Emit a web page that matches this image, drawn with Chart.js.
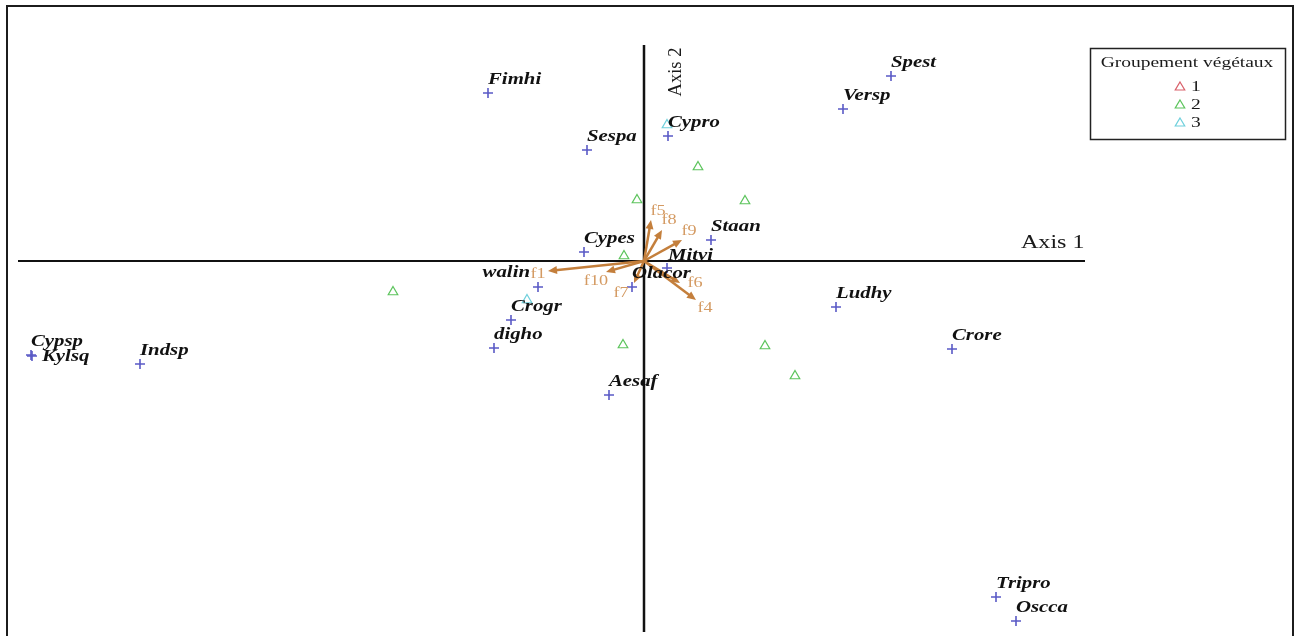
<!DOCTYPE html>
<html>
<head>
<meta charset="utf-8">
<script src="https://cdn.jsdelivr.net/npm/chart.js@4/dist/chart.umd.min.js"></script>
<style>
  html, body { margin: 0; padding: 0; background: #ffffff; }
  #wrap { width: 1295px; height: 636px; }
</style>
</head>
<body>
<div id="wrap"><canvas id="ordination" width="1295" height="636"></canvas></div>
<script>
// Species scores (blue crosses)
const speciesNames = ['Fimhi', 'Sespa', 'Cypro', 'Spest', 'Versp', 'Staan', 'Cypes', 'Mitvi', 'Olacor', 'walin',
                      'Crogr', 'digho', 'Aesaf', 'Ludhy', 'Crore', 'Cypsp', 'Kylsq', 'Indsp', 'Tripro', 'Oscca'];
const speciesX = [-1.56, -0.57, 0.24, 2.47, 1.99, 0.67, -0.60, 0.23, -0.12, -1.06,
                  -1.33, -1.50, -0.35, 1.92, 3.08, -6.13, -6.12, -5.04, 3.52, 3.72];
const speciesY = [1.68, 1.11, 1.25, 1.85, 1.52, 0.21, 0.09, -0.07, -0.26, -0.26,
                  -0.59, -0.87, -1.34, -0.46, -0.88, -0.94, -0.95, -1.03, -3.36, -3.60];

// Site scores by plant grouping (triangles)
const groupLabels = ['1', '2', '3'];
const group1X = [];
const group1Y = [];
const group2X = [0.54, 1.01, -0.07, -0.20, -2.51, -0.21, 1.21, 1.51];
const group2Y = [0.94, 0.60, 0.61, 0.05, -0.31, -0.84, -0.85, -1.15];
const group3X = [-1.17, 0.23];
const group3Y = [-0.39, 1.36];

// Environmental factor vectors (arrows from the origin)
const factorNames = ['f1', 'f10', 'f7', 'f5', 'f8', 'f9', 'f6', 'f4'];
const factorX = [-0.96, -0.38, -0.10, 0.07, 0.18, 0.38, 0.36, 0.52];
const factorY = [-0.10, -0.11, -0.22, 0.41, 0.31, 0.21, -0.22, -0.39];

const axisTitles = ['Axis 1', 'Axis 2'];
const legendTitle = 'Groupement végétaux';

// Plot window and axis line extents (data units)
const xRange = [-6.44, 6.51];
const yRange = [-3.75, 2.61];
const hAxisSpan = [-6.26, 4.41];
const vAxisSpan = [-3.71, 2.16];

// Label placement tweaks (pixels)
const speciesNudge = { Kylsq: [10, 1, 'left'], walin: [-8, -14, 'right'], Mitvi: [1, -12, 'left'] };
const factorNudge = {
  f1: [-10, 3], f10: [-10, 9], f7: [-13, 10], f5: [7, -9],
  f8: [7, -10], f9: [7, -9], f6: [15, 0], f4: [9, 8]
};

const colors = { g1: '#d9606a', g2: '#5cc45c', g3: '#6fd0dc', species: '#5a5ac6', arrow: '#c47f3c', factorText: '#d49a62' };
const STRETCH = 1.3;

const toPts = (xs, ys) => xs.map((x, i) => ({ x: x, y: ys[i] }));

function wideText(ctx, text, x, y, align) {
  ctx.save();
  ctx.translate(x, y);
  ctx.scale(STRETCH, 1);
  ctx.textAlign = align;
  ctx.fillText(text, 0, 0);
  ctx.restore();
}

function triangle(ctx, cx, cy, r, color) {
  ctx.save();
  ctx.beginPath();
  ctx.moveTo(cx, cy - r);
  ctx.lineTo(cx + r * 0.95, cy + r * 0.6);
  ctx.lineTo(cx - r * 0.95, cy + r * 0.6);
  ctx.closePath();
  ctx.strokeStyle = color;
  ctx.lineWidth = 1.2;
  ctx.stroke();
  ctx.restore();
}

const ordinationDecor = {
  id: 'ordinationDecor',
  beforeDatasetsDraw(chart) {
    const { ctx, scales: { x, y } } = chart;
    ctx.save();
    ctx.strokeStyle = '#111';
    ctx.lineWidth = 2;
    ctx.beginPath();
    ctx.moveTo(x.getPixelForValue(hAxisSpan[0]), y.getPixelForValue(0));
    ctx.lineTo(x.getPixelForValue(hAxisSpan[1]), y.getPixelForValue(0));
    ctx.stroke();
    ctx.lineWidth = 2.5;
    ctx.beginPath();
    ctx.moveTo(x.getPixelForValue(0), y.getPixelForValue(vAxisSpan[1]));
    ctx.lineTo(x.getPixelForValue(0), y.getPixelForValue(vAxisSpan[0]));
    ctx.stroke();

    // axis titles
    ctx.fillStyle = '#1a1a1a';
    ctx.font = '18.5px "Liberation Serif", "DejaVu Serif", serif';
    ctx.textBaseline = 'middle';
    wideText(ctx, axisTitles[0], x.getPixelForValue(hAxisSpan[1]) - 64, y.getPixelForValue(0) - 18, 'left');
    ctx.save();
    ctx.translate(x.getPixelForValue(0) + 32, 72);
    ctx.rotate(-Math.PI / 2);
    ctx.textAlign = 'center';
    ctx.fillText(axisTitles[1], 0, 0);
    ctx.restore();
    ctx.restore();
  },
  afterDatasetsDraw(chart) {
    const { ctx, scales: { x, y } } = chart;
    const ox = x.getPixelForValue(0), oy = y.getPixelForValue(0);
    ctx.save();
    // factor arrows
    factorNames.forEach((name, i) => {
      const tx = x.getPixelForValue(factorX[i]);
      const ty = y.getPixelForValue(factorY[i]);
      const ang = Math.atan2(ty - oy, tx - ox);
      ctx.strokeStyle = colors.arrow;
      ctx.fillStyle = colors.arrow;
      ctx.lineWidth = 2.5;
      ctx.beginPath();
      ctx.moveTo(ox, oy);
      ctx.lineTo(tx - Math.cos(ang) * 5, ty - Math.sin(ang) * 5);
      ctx.stroke();
      ctx.beginPath();
      ctx.moveTo(tx, ty);
      ctx.lineTo(tx - Math.cos(ang) * 9 + Math.sin(ang) * 4, ty - Math.sin(ang) * 9 - Math.cos(ang) * 4);
      ctx.lineTo(tx - Math.cos(ang) * 9 - Math.sin(ang) * 4, ty - Math.sin(ang) * 9 + Math.cos(ang) * 4);
      ctx.closePath();
      ctx.fill();
    });
    // factor labels
    ctx.fillStyle = colors.factorText;
    ctx.font = '14px "Liberation Serif", "DejaVu Serif", serif';
    ctx.textBaseline = 'middle';
    factorNames.forEach((name, i) => {
      const n = factorNudge[name] || [0, 0];
      wideText(ctx, name, x.getPixelForValue(factorX[i]) + n[0], y.getPixelForValue(factorY[i]) + n[1], 'center');
    });
    // species labels
    ctx.fillStyle = '#111';
    ctx.font = 'italic bold 16px "Liberation Serif", "DejaVu Serif", serif';
    speciesNames.forEach((name, i) => {
      const n = speciesNudge[name] || [0, -13, 'left'];
      wideText(ctx, name, x.getPixelForValue(speciesX[i]) + n[0], y.getPixelForValue(speciesY[i]) + n[1], n[2]);
    });
    ctx.restore();
  },
  afterDraw(chart) {
    const { ctx } = chart;
    ctx.save();
    // outer frame
    ctx.strokeStyle = '#1c1c1c';
    ctx.lineWidth = 2;
    ctx.strokeRect(7, 6, 1286, 640);
    // legend
    ctx.lineWidth = 1.5;
    ctx.strokeStyle = '#222';
    ctx.strokeRect(1090.5, 48.5, 195, 91);
    ctx.fillStyle = '#1a1a1a';
    ctx.textBaseline = 'middle';
    ctx.font = '15px "Liberation Serif", "DejaVu Serif", serif';
    wideText(ctx, legendTitle, 1187, 63, 'center');
    const legendColors = [colors.g1, colors.g2, colors.g3];
    ctx.font = '15px "Liberation Serif", "DejaVu Serif", serif';
    groupLabels.forEach((lab, i) => {
      const cy = 87 + i * 18;
      triangle(ctx, 1180, cy, 5, legendColors[i]);
      ctx.fillStyle = '#1a1a1a';
      wideText(ctx, lab, 1191, cy, 'left');
    });
    ctx.restore();
  }
};

new Chart(document.getElementById('ordination'), {
  type: 'scatter',
  data: {
    datasets: [
      { label: 'species', data: toPts(speciesX, speciesY), pointStyle: 'cross', pointRadius: 5,
        borderColor: colors.species, backgroundColor: colors.species, pointBorderWidth: 1.6 },
      { label: groupLabels[0], data: toPts(group1X, group1Y), pointStyle: 'triangle', pointRadius: 5.5,
        borderColor: colors.g1, backgroundColor: 'rgba(0,0,0,0)', pointBorderWidth: 1.2 },
      { label: groupLabels[1], data: toPts(group2X, group2Y), pointStyle: 'triangle', pointRadius: 5.5,
        borderColor: colors.g2, backgroundColor: 'rgba(0,0,0,0)', pointBorderWidth: 1.2 },
      { label: groupLabels[2], data: toPts(group3X, group3Y), pointStyle: 'triangle', pointRadius: 5.5,
        borderColor: colors.g3, backgroundColor: 'rgba(0,0,0,0)', pointBorderWidth: 1.2 }
    ]
  },
  options: {
    responsive: false,
    animation: false,
    layout: { padding: 0, autoPadding: false },
    plugins: { legend: { display: false }, tooltip: { enabled: false } },
    scales: {
      x: { type: 'linear', min: xRange[0], max: xRange[1], display: false },
      y: { type: 'linear', min: yRange[0], max: yRange[1], display: false }
    }
  },
  plugins: [ordinationDecor]
});
</script>
</body>
</html>
